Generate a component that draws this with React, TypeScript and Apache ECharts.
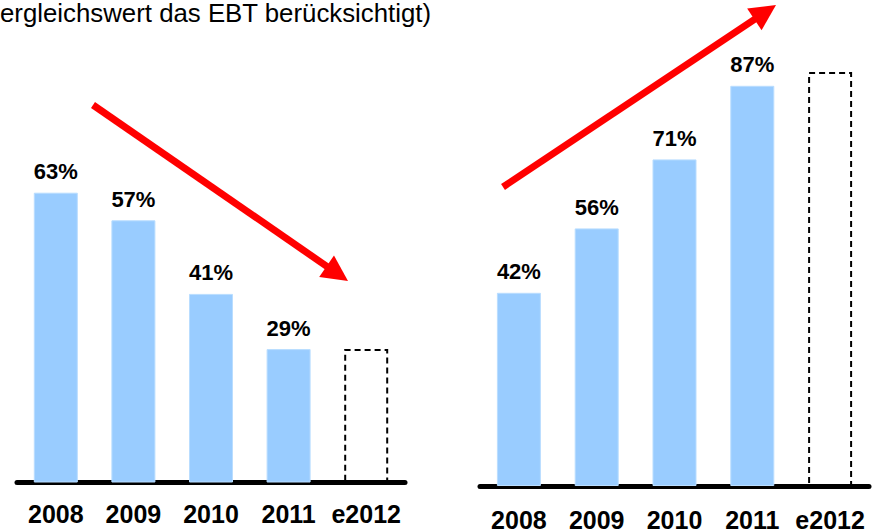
import React, { useEffect, useRef } from "react";
import * as echarts from "echarts";

const categories = ["2008", "2009", "2010", "2011", "e2012"];
const leftValues = [63, 57, 41, 29, 29];
const rightValues = [42, 56, 71, 87, 90];
const estimateIndex = 4;
const headerText = "ergleichswert das EBT berücksichtigt)";

const FONT = 'Arial, "Liberation Sans", Helvetica, sans-serif';

function arrow(x1: number, y1: number, x2: number, y2: number) {
  const dx = x2 - x1;
  const dy = y2 - y1;
  const len = Math.sqrt(dx * dx + dy * dy);
  const ux = dx / len;
  const uy = dy / len;
  const headLen = 26;
  const half = 13;
  const bx = x2 - ux * headLen;
  const by = y2 - uy * headLen;
  const px = -uy;
  const py = ux;
  return [
    {
      type: "line",
      shape: { x1, y1, x2: bx + ux * 2, y2: by + uy * 2 },
      style: { stroke: "#ff0000", lineWidth: 7, lineCap: "butt" },
      z: 10,
    },
    {
      type: "polygon",
      shape: {
        points: [
          [x2, y2],
          [bx + px * half, by + py * half],
          [bx - px * half, by - py * half],
        ],
      },
      style: { fill: "#ff0000" },
      z: 10,
    },
  ];
}

function makeSeries(values: number[], idx: number) {
  return {
    type: "bar",
    xAxisIndex: idx,
    yAxisIndex: idx,
    barWidth: 44,
    data: values.map((v, i) =>
      i === estimateIndex
        ? {
            value: v,
            itemStyle: {
              color: "rgba(0,0,0,0)",
              borderColor: "#000",
              borderWidth: 2,
              borderType: [6, 4],
            },
            label: { show: false },
          }
        : { value: v }
    ),
    itemStyle: { color: "#99ccff", borderColor: "#b9ddff", borderWidth: 1 },
    label: {
      show: true,
      position: "top",
      distance: 10,
      formatter: (p: any) => p.value + "%",
      fontFamily: FONT,
      fontWeight: "bold",
      fontSize: 22,
      color: "#000",
    },
  };
}

function makeXAxis(idx: number, margin: number) {
  return {
    type: "category",
    gridIndex: idx,
    data: categories,
    axisLine: { show: true, lineStyle: { color: "#000", width: 5 } },
    axisTick: { show: false },
    axisLabel: {
      margin,
      fontFamily: FONT,
      fontWeight: "bold",
      fontSize: 25,
      color: "#000",
      interval: 0,
    },
  };
}

function makeYAxis(idx: number) {
  return {
    type: "value",
    gridIndex: idx,
    min: 0,
    max: 100,
    show: false,
    splitLine: { show: false },
  };
}

export default function App() {
  const ref = useRef<HTMLDivElement>(null);
  useEffect(() => {
    if (!ref.current) return;
    const chart = echarts.init(ref.current, null, { renderer: "svg" });
    chart.setOption({
      animation: false,
      backgroundColor: "#fff",
      grid: [
        { left: 17, right: 468, top: 22.5, bottom: 49.5 },
        { left: 480, right: 4, top: 26, bottom: 46 },
      ],
      xAxis: [makeXAxis(0, 19), makeXAxis(1, 21)],
      yAxis: [makeYAxis(0), makeYAxis(1)],
      series: [makeSeries(leftValues, 0), makeSeries(rightValues, 1)],
      graphic: [
        {
          type: "text",
          left: 0,
          top: 0,
          style: {
            x: 0,
            y: 13,
            text: headerText,
            fontFamily: FONT,
            fontSize: 25.8,
            fill: "#000",
            verticalAlign: "middle",
          },
        },
        ...arrow(93, 105, 348, 281),
        ...arrow(503, 187, 776, 5),
      ],
    });
    return () => chart.dispose();
  }, []);
  return (
    <div
      ref={ref}
      style={{ position: "absolute", left: 0, top: 0, width: 873, height: 532 }}
    />
  );
}
